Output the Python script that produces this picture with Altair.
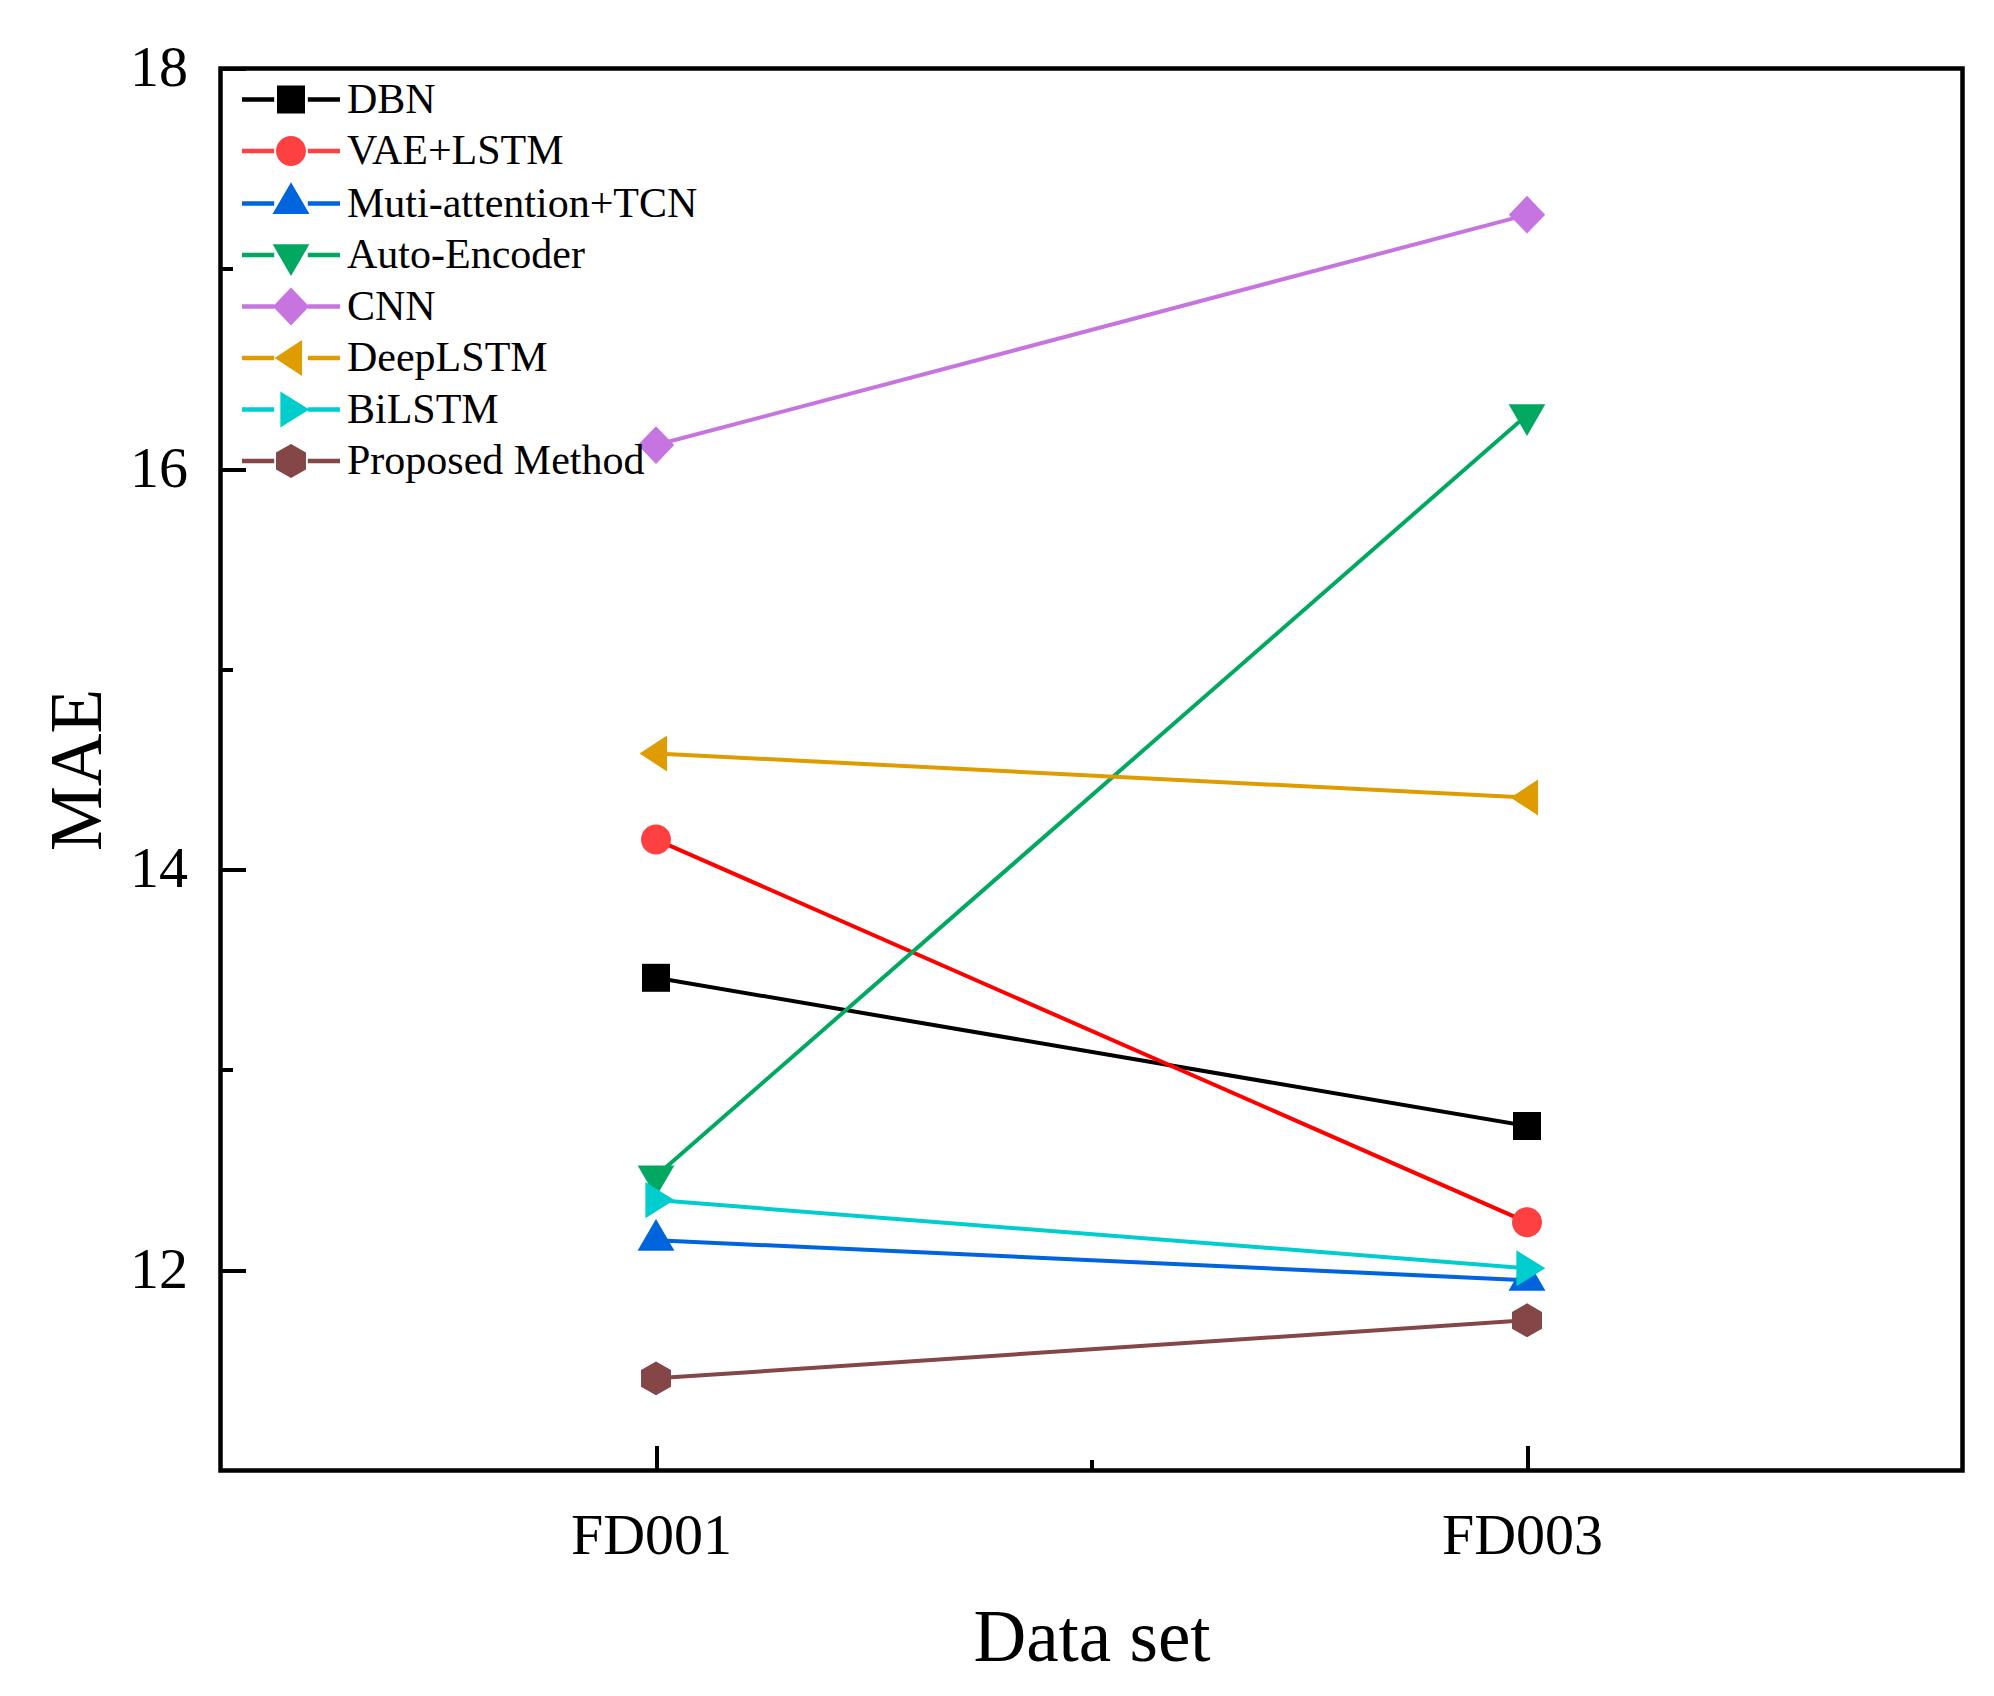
import altair as alt
import pandas as pd

datasets = ["FD001", "FD003"]
series = ["DBN", "VAE+LSTM", "Muti-attention+TCN", "Auto-Encoder", "CNN",
          "DeepLSTM", "BiLSTM", "Proposed Method"]

dbn = [13.46, 12.72]
vae_lstm = [14.15, 12.24]
muti_tcn = [12.15, 11.95]
auto_encoder = [12.47, 16.27]
cnn = [16.12, 17.27]
deep_lstm = [14.58, 14.36]
bilstm = [12.35, 12.01]
proposed = [11.46, 11.75]

y_major = [12, 14, 16, 18]
y_minor = [13, 15, 17]

all_values = [dbn, vae_lstm, muti_tcn, auto_encoder, cnn, deep_lstm, bilstm, proposed]

line_colors = ["#000000", "#FF0000", "#0064DC", "#00A862", "#C674E0",
               "#DF9C00", "#00CDCD", "#844646"]
marker_colors = ["#000000", "#FF4040", "#0064DC", "#00A862", "#C674E0",
                 "#DF9C00", "#00CDCD", "#844646"]

# marker outlines in symbol units (1 unit = half of sqrt(size))
marker_paths = [
    "M-1,-1L1,-1L1,1L-1,1Z",
    "M-1.07,0A1.07,1.07 0 1,0 1.07,0A1.07,1.07 0 1,0 -1.07,0Z",
    "M0,-1.51L1.32,0.75L-1.32,0.75Z",
    "M-1.31,-0.76L1.31,-0.76L0,1.5Z",
    "M0,-1.35L1.3,0L0,1.35L-1.3,0Z",
    "M-1.17,0L0.79,-1.29L0.79,1.29Z",
    "M-0.76,-1.29L1.31,0L-0.76,1.29Z",
    "M0,-1.21L1.07,-0.6L1.07,0.6L0,1.21L-1.07,0.6L-1.07,-0.6Z",
]
stubs = "M-3.5,-0.16L-1.2,-0.16L-1.2,0.16L-3.5,0.16Z M1.2,-0.16L3.5,-0.16L3.5,0.16L1.2,0.16Z "
legend_paths = [stubs + p for p in marker_paths]

rows = []
for s, vals in zip(series, all_values):
    for i, (d, v) in enumerate(zip(datasets, vals)):
        rows.append({"series": s, "dataset": d, "pos": i + 1, "MAE": v})
df = pd.DataFrame(rows)

FONT = "Liberation Serif"
label_expr = "[" + ",".join("'%s'" % d for d in datasets) + "][round(datum.value) - 1]"

xscale = alt.Scale(domain=[0.5, len(datasets) + 0.5], nice=False, zero=False)
yscale = alt.Scale(domain=[11, 18], nice=False, zero=False)
pos_values = list(range(1, len(datasets) + 1))

base = alt.Chart(df)

lines = base.mark_line(strokeWidth=4).encode(
    x=alt.X("pos:Q", scale=xscale,
            axis=alt.Axis(orient="bottom", values=pos_values, labelExpr=label_expr,
                          ticks=False, tickSize=0, labelOffset=-5,
                          domain=False, grid=False, labelFont=FONT, labelFontSize=58,
                          labelColor="black", labelPadding=37, labelFlush=False,
                          title="Data set", titleFont=FONT, titleFontSize=73,
                          titleFontWeight="normal", titleColor="black", titlePadding=37)),
    y=alt.Y("MAE:Q", scale=yscale,
            axis=alt.Axis(orient="left", values=y_major, ticks=False, tickSize=0,
                          domain=False, grid=False,
                          labelFont=FONT, labelFontSize=58, labelColor="black",
                          labelPadding=33, labelFlush=False,
                          title="MAE", titleFont=FONT, titleFontSize=73,
                          titleFontWeight="normal", titleColor="black", titlePadding=14)),
    stroke=alt.Stroke("series:N", scale=alt.Scale(domain=series, range=line_colors), legend=None),
)

markers = base.mark_point(filled=True, size=784, opacity=1, strokeWidth=0).encode(
    x=alt.X("pos:Q", scale=xscale,
            axis=alt.Axis(orient="bottom", values=pos_values, labels=False, ticks=True,
                          tickSize=25, tickWidth=4, tickColor="black", offset=-25,
                          domain=False, grid=False, title=None)),
    y=alt.Y("MAE:Q", scale=yscale,
            axis=alt.Axis(orient="left", values=y_major, labels=False, ticks=True,
                          tickSize=25, tickWidth=4, tickColor="black", offset=-25,
                          domain=False, grid=False, title=None)),
    shape=alt.Shape("series:N", scale=alt.Scale(domain=series, range=marker_paths), legend=None),
    fill=alt.Fill("series:N", scale=alt.Scale(domain=series, range=marker_colors), legend=None),
)

legend_cfg = dict(orient="none", legendX=49.5, legendY=10, padding=0, rowPadding=9.5,
                  labelOffset=35, labelFont=FONT, labelFontSize=42, labelColor="black",
                  labelLimit=1000, title=None, symbolSize=784, symbolStrokeWidth=0)

legend_layer = base.transform_filter("false").mark_point(
    filled=True, size=784, opacity=1, strokeWidth=0).encode(
    x=alt.X("pos:Q", scale=xscale,
            axis=alt.Axis(orient="bottom", values=[1.5], labels=False, ticks=True,
                          tickSize=11, tickWidth=4, tickColor="black", offset=-11,
                          domain=False, grid=False, title=None)),
    y=alt.Y("MAE:Q", scale=yscale,
            axis=alt.Axis(orient="left", values=y_minor, labels=False, ticks=True,
                          tickSize=12, tickWidth=4, tickColor="black", offset=-12,
                          domain=False, grid=False, title=None)),
    shape=alt.Shape("series:N", scale=alt.Scale(domain=series, range=legend_paths),
                    legend=alt.Legend(**legend_cfg)),
    fill=alt.Fill("series:N", scale=alt.Scale(domain=series, range=marker_colors),
                  legend=alt.Legend(**legend_cfg)),
)

chart = alt.layer(lines, markers, legend_layer).resolve_scale(
    shape="independent", fill="independent"
).resolve_axis(x="independent", y="independent").properties(
    width=1742, height=1402,
    autosize=alt.AutoSizeParams(type="none"),
    padding={"left": 212.5, "top": 60.5, "right": 23.5, "bottom": 217.5},
    background="white",
).configure(
    font=FONT,
    view=alt.ViewConfig(stroke="black", strokeWidth=4.5),
)

chart.save("out.html", embed_options={"renderer": "svg", "actions": False})
